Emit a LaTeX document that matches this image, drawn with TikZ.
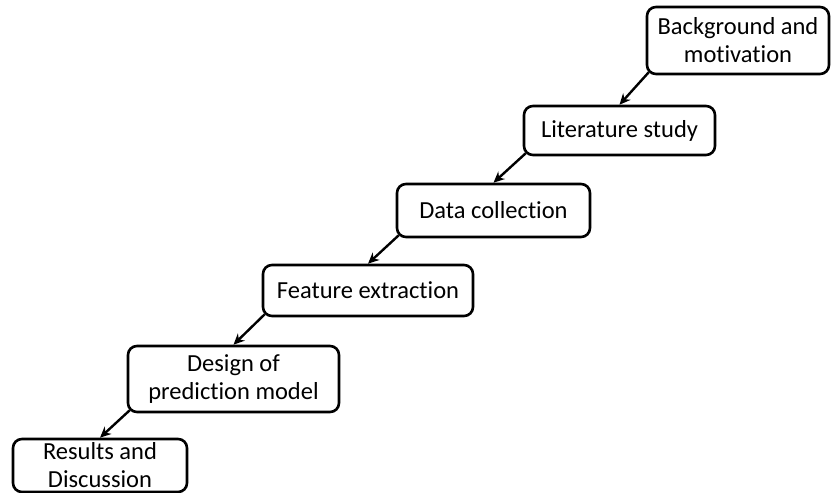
\documentclass[tikz,border=0pt]{standalone}
\usepackage{fontspec}
\setmainfont{Carlito}[Ligatures=NoCommon]
\usetikzlibrary{arrows.meta, positioning}

\begin{document}
\begin{tikzpicture}[x=1pt,y=1pt,
    stage/.style={draw,line width=2.6pt,rounded corners=9pt,align=center,
        inner sep=0pt,font=\fontsize{24.5}{28}\selectfont},
    flow/.style={line width=2.4pt,-{Stealth[length=11pt,width=10pt]}}]
\useasboundingbox (0,0) rectangle (831,493);

% Stages, from top right down to bottom left
\node[stage,minimum width=182pt,minimum height=67pt] (bg) at (738,452.5) {Background and\\motivation};
\node[stage,minimum width=191pt,minimum height=49pt] (lit) at (619.5,362.5) {Literature study};
\node[stage,minimum width=193pt,minimum height=53pt] (data) at (493.5,282.5) {Data collection};
\node[stage,minimum width=210pt,minimum height=51pt] (feat) at (368,202.5) {Feature extraction};
\node[stage,minimum width=211pt,minimum height=66pt] (model) at (233.5,114) {Design of\\prediction model};
\node[stage,minimum width=174pt,minimum height=53pt] (res) at (100,27.5) {Results and\\Discussion};

% Steps
\draw[flow] ([shift={(3,3)}]bg.south west) -- (lit.north);
\draw[flow] ([shift={(3,3)}]lit.south west) -- (data.north);
\draw[flow] ([shift={(3,3)}]data.south west) -- (feat.north);
\draw[flow] ([shift={(3,3)}]feat.south west) -- (model.north);
\draw[flow] ([shift={(3,3)}]model.south west) -- (res.north);
\end{tikzpicture}
\end{document}
